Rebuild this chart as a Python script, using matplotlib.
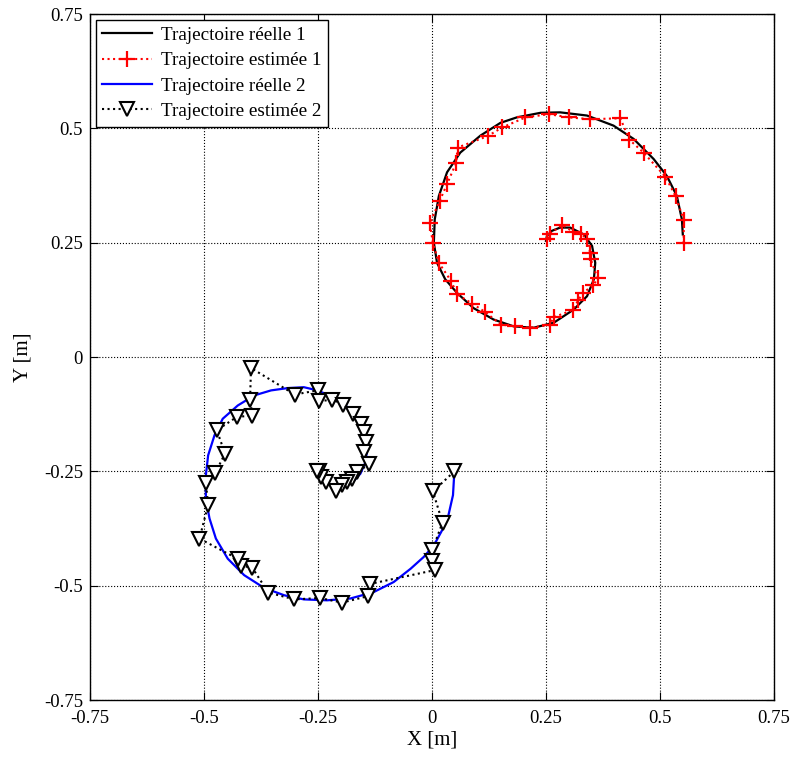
import numpy as np
import matplotlib.pyplot as plt

plt.rcParams['font.family'] = ['Liberation Serif', 'DejaVu Serif']

# true trajectory 1
x_true1 = [0.550, 0.548, 0.537, 0.515, 0.486, 0.442, 0.398, 0.340, 0.281, 0.238,
           0.186, 0.150, 0.106, 0.062, 0.033, 0.015, 0.006, 0.004, 0.011, 0.029,
           0.055, 0.091, 0.135, 0.179, 0.223, 0.267, 0.311, 0.340, 0.355, 0.358,
           0.351, 0.333, 0.303, 0.281, 0.263, 0.252, 0.250]
y_true1 = [0.268, 0.301, 0.352, 0.396, 0.433, 0.477, 0.506, 0.528, 0.535, 0.534,
           0.524, 0.512, 0.484, 0.447, 0.404, 0.352, 0.301, 0.250, 0.206, 0.170,
           0.140, 0.107, 0.082, 0.067, 0.064, 0.075, 0.104, 0.133, 0.170, 0.206,
           0.243, 0.268, 0.283, 0.283, 0.276, 0.265, 0.254]

# estimated trajectory 1
x_est1 = [0.552, 0.552, 0.534, 0.512, 0.464, 0.433, 0.413, 0.347, 0.300, 0.256,
          0.205, 0.154, 0.122, 0.056, 0.053, 0.033, 0.017, -0.005, 0.002, 0.015,
          0.042, 0.055, 0.088, 0.117, 0.151, 0.183, 0.214, 0.258, 0.267, 0.309,
          0.321, 0.332, 0.354, 0.363, 0.348, 0.347, 0.340, 0.327, 0.309, 0.286,
          0.259, 0.252]
y_est1 = [0.249, 0.300, 0.352, 0.394, 0.447, 0.475, 0.522, 0.520, 0.524, 0.531,
          0.524, 0.502, 0.483, 0.458, 0.425, 0.378, 0.342, 0.292, 0.249, 0.206,
          0.166, 0.137, 0.117, 0.098, 0.071, 0.067, 0.064, 0.070, 0.087, 0.103,
          0.125, 0.141, 0.157, 0.172, 0.214, 0.227, 0.257, 0.270, 0.274, 0.289,
          0.270, 0.257]

# true trajectory 2
x_true2 = [0.049, 0.046, 0.036, 0.022, 0.004, -0.018, -0.047, -0.084, -0.128, -0.179,
           -0.230, -0.281, -0.324, -0.368, -0.412, -0.448, -0.474, -0.488, -0.496, -0.496,
           -0.491, -0.477, -0.459, -0.426, -0.390, -0.353, -0.317, -0.281, -0.251, -0.219,
           -0.186, -0.164, -0.149, -0.142, -0.146, -0.157, -0.171, -0.193, -0.211, -0.230,
           -0.244, -0.250]
y_true2 = [-0.251, -0.302, -0.346, -0.379, -0.412, -0.437, -0.463, -0.492, -0.514, -0.528,
           -0.532, -0.530, -0.521, -0.505, -0.477, -0.441, -0.397, -0.353, -0.310, -0.259,
           -0.215, -0.171, -0.135, -0.106, -0.084, -0.073, -0.068, -0.066, -0.073, -0.087,
           -0.109, -0.135, -0.164, -0.200, -0.230, -0.255, -0.270, -0.279, -0.281, -0.277,
           -0.266, -0.255]

# estimated trajectory 2
x_est2 = [0.049, 0.002, 0.023, 0.001, 0.000, 0.006, -0.135, -0.141, -0.197, -0.246,
          -0.302, -0.359, -0.394, -0.419, -0.425, -0.510, -0.491, -0.496, -0.475, -0.454,
          -0.472, -0.428, -0.394, -0.399, -0.397, -0.301, -0.251, -0.248, -0.219, -0.195,
          -0.173, -0.155, -0.149, -0.144, -0.149, -0.138, -0.164, -0.175, -0.187, -0.197,
          -0.211, -0.233, -0.243, -0.248, -0.253]
y_est2 = [-0.250, -0.294, -0.362, -0.421, -0.446, -0.466, -0.496, -0.523, -0.537, -0.527,
          -0.530, -0.515, -0.461, -0.456, -0.442, -0.397, -0.323, -0.275, -0.253, -0.211,
          -0.160, -0.131, -0.128, -0.093, -0.024, -0.082, -0.073, -0.097, -0.093, -0.104,
          -0.124, -0.146, -0.164, -0.186, -0.208, -0.235, -0.251, -0.266, -0.273, -0.279,
          -0.294, -0.273, -0.262, -0.250, -0.250]

ticks = [-0.75, -0.5, -0.25, 0, 0.25, 0.5, 0.75]
tick_labels = ['-0.75', '-0.5', '-0.25', '0', '0.25', '0.5', '0.75']

fig = plt.figure(figsize=(7.94, 7.58), dpi=100)
ax = fig.add_axes([0.1134, 0.0765, 0.8614, 0.905])

ax.plot(x_true1, y_true1, '-', color='black', lw=1.6, label='Trajectoire réelle 1')
ax.plot(x_est1, y_est1, ':', color='red', lw=1.5, marker='+', markersize=11,
        markeredgewidth=1.6, label='Trajectoire estimée 1')
ax.plot(x_true2, y_true2, '-', color='blue', lw=1.6, label='Trajectoire réelle 2')
ax.plot(x_est2, y_est2, ':', color='black', lw=1.5, marker='v', markersize=9.5,
        markerfacecolor='white', markeredgecolor='black', markeredgewidth=1.5,
        label='Trajectoire estimée 2')

ax.set_xlim(-0.75, 0.75)
ax.set_ylim(-0.75, 0.75)
ax.set_xticks(ticks)
ax.set_xticklabels(tick_labels)
ax.set_yticks(ticks)
ax.set_yticklabels(tick_labels)
ax.tick_params(direction='in', top=True, right=True, length=6, labelsize=13.5)
ax.tick_params(axis='x', pad=7)
ax.tick_params(axis='y', pad=5)
ax.grid(True, linestyle=':', color='black', linewidth=0.8)
ax.set_xlabel('X [m]', fontsize=15, labelpad=3)
ax.set_ylabel('Y [m]', fontsize=15, labelpad=8)
for s in ax.spines.values():
    s.set_linewidth(1.0)

leg = ax.legend(loc='upper left', fontsize=13.75, fancybox=False, framealpha=1,
                edgecolor='black', borderaxespad=0.3, handlelength=2.6,
                labelspacing=0.42, borderpad=0.35, handletextpad=0.45)
leg.get_frame().set_linewidth(1.0)

fig.savefig('out.png', dpi=100)
